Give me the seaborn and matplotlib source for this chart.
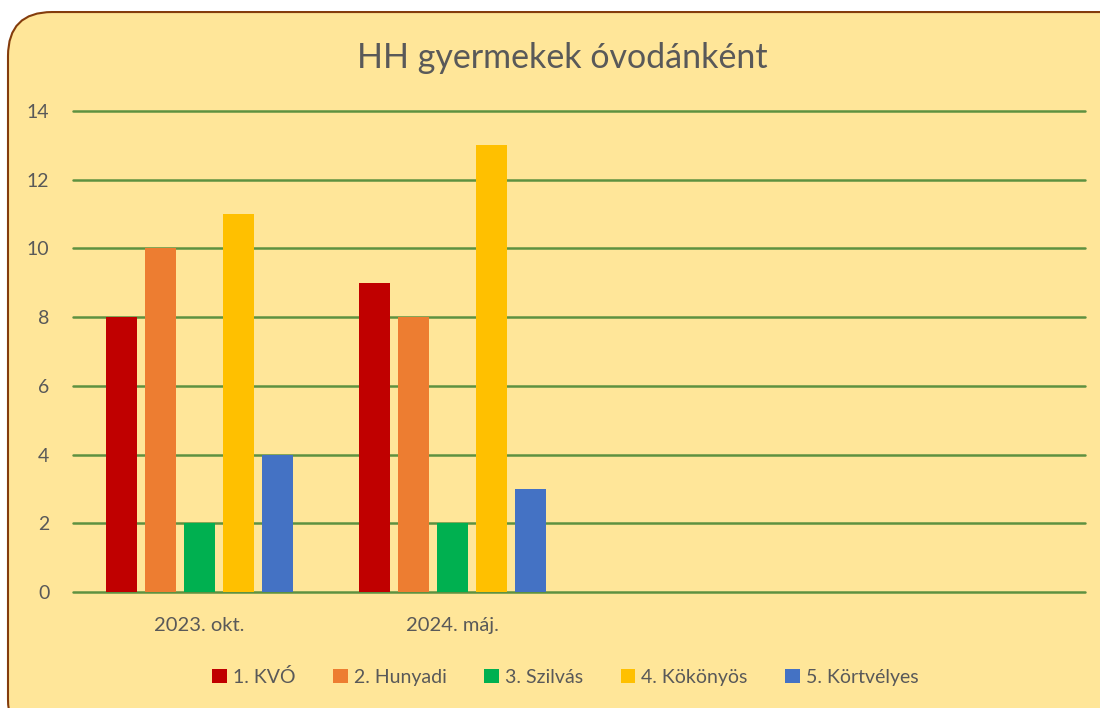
import matplotlib
matplotlib.use("Agg")
import matplotlib.pyplot as plt
from matplotlib.patches import FancyBboxPatch
import seaborn as sns
import pandas as pd

# data
periods = ['2023. okt.', '2024. máj.']
schools = ['1. KVÓ', '2. Hunyadi', '3. Szilvás', '4. Kökönyös', '5. Körtvélyes']
okt_2023 = [8, 10, 2, 11, 4]
maj_2024 = [9, 8, 2, 13, 3]
colors = ['#C00000', '#ED7D31', '#00B050', '#FFC000', '#4472C4']

df = pd.DataFrame({
    'period': [periods[0]] * len(schools) + [periods[1]] * len(schools),
    'school': schools + schools,
    'count': okt_2023 + maj_2024,
})

sns.set_theme(style='white')
plt.rcParams['font.family'] = ['Lato', 'DejaVu Sans']
text_color = '#595959'
bg = '#FFE699'

fig = plt.figure(figsize=(11, 7.08), dpi=100)
fig.patch.set_facecolor('white')

# rounded chart frame (runs off right / bottom edge like the reference)
frame = FancyBboxPatch((8 / 1100, -0.05), 1.2, 0.983 + 0.05,
                       boxstyle='round,pad=0,rounding_size=0.04',
                       transform=fig.transFigure, facecolor=bg,
                       edgecolor='#843C0C', linewidth=1.5,
                       mutation_aspect=1100 / 708, zorder=-10)
fig.patches.append(frame)

ax = fig.add_axes([73 / 1100, 1 - 592 / 708, (1085 - 73) / 1100, (592 - 111) / 708])
ax.set_facecolor('none')

sns.barplot(data=df, x='period', y='count', hue='school', palette=colors,
            order=periods, hue_order=schools, width=0.77, gap=0.2,
            saturation=1, linewidth=0, ax=ax, zorder=3)

ax.set_xlim(-0.5, 3.5)
ax.set_ylim(0, 14)
ax.set_yticks(range(0, 15, 2))
ax.yaxis.grid(True, color='#5E9140', linewidth=1.8, zorder=1)
for gl in ax.get_ygridlines():
    gl.set_clip_on(False)
ax.set_axisbelow(True)
for s in ax.spines.values():
    s.set_visible(False)
ax.tick_params(axis='both', length=0, labelsize=14, colors=text_color)
ax.tick_params(axis='x', labelsize=14.5, pad=18)
ax.tick_params(axis='y', pad=17)
ax.set_xlabel('')
ax.set_ylabel('')

fig.text(0.511, 1 - 58 / 708, 'HH gyermekek óvodánként', ha='center', va='center',
         fontsize=24.5, color=text_color)

handles, labels = ax.get_legend_handles_labels()
ax.legend_.remove()
fig.legend(handles, labels, loc='center', bbox_to_anchor=(0.514, 1 - 677 / 708),
           ncol=5, frameon=False, fontsize=14, labelcolor=text_color,
           handlelength=0.75, handleheight=0.75, handletextpad=0.3,
           columnspacing=1.95)

fig.savefig('out.png', dpi=100, facecolor=fig.get_facecolor())
